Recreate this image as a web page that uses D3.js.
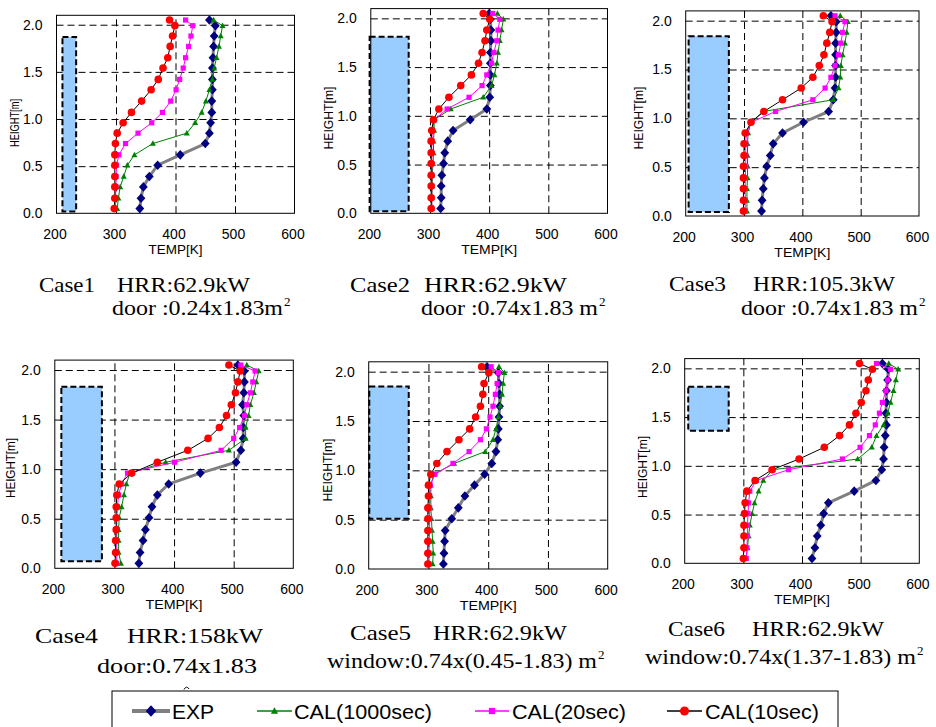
<!DOCTYPE html>
<html>
<head>
<meta charset="utf-8">
<script src="https://cdn.jsdelivr.net/npm/d3@7"></script>
<style>
  body { margin: 0; background: #fff; }
  .tick text { font-family: "Liberation Sans", Arial, sans-serif; font-size: 14px; fill: #000; }
</style>
</head>
<body>
<script>
// measurement heights [m], shared by every case
const heights = [0.05, 0.16, 0.28, 0.39, 0.51, 0.62, 0.74, 0.85, 0.96, 1.07, 1.19, 1.31, 1.42, 1.54, 1.65, 1.77, 1.88, 1.99, 2.05];

// temperatures [K], bottom to top
const case1Exp   = [340, 342, 346, 356, 370, 408, 450, 457, 459, 461, 461, 462, 462, 462, 463, 464, 465, 467, 457];
const case1C1000 = [302, 304, 307, 313, 319, 331, 362, 419, 433, 444, 451, 457, 462, 465, 469, 473, 476, 479, 464];
const case1C20   = [299, 299, 300, 300, 301, 305, 316, 337, 360, 378, 392, 401, 407, 413, 417, 422, 426, 429, 417];
const case1C10   = [297, 298, 298, 298, 298, 298, 299, 302, 312, 326, 343, 359, 371, 379, 387, 391, 395, 399, 390];

const case2Exp   = [318, 319, 319, 320, 323, 325, 330, 339, 368, 396, 401, 402, 402, 402, 402, 403, 403, 402, 400];
const case2C1000 = [303, 303, 304, 304, 305, 306, 306, 307, 307, 335, 390, 404, 409, 413, 415, 418, 421, 424, 414];
const case2C20   = [303, 303, 303, 303, 303, 303, 303, 304, 307, 329, 366, 388, 396, 404, 408, 413, 415, 418, 406];
const case2C10   = [302, 302, 302, 302, 302, 302, 302, 303, 306, 315, 332, 352, 370, 382, 388, 393, 396, 401, 390];

const case3Exp   = [330, 331, 333, 335, 339, 345, 350, 366, 402, 445, 453, 456, 457, 457, 457, 457, 458, 458, 449];
const case3C1000 = [305, 305, 305, 306, 306, 306, 306, 307, 312, 333, 453, 462, 465, 466, 469, 473, 476, 478, 465];
const case3C20   = [302, 302, 302, 302, 303, 303, 303, 304, 312, 354, 418, 439, 449, 456, 462, 466, 469, 473, 456];
const case3C10   = [299, 299, 299, 299, 299, 300, 300, 302, 312, 334, 366, 398, 418, 429, 437, 442, 447, 451, 436];

const case4Exp   = [341, 343, 348, 352, 358, 363, 372, 391, 444, 504, 512, 516, 516, 517, 515, 517, 518, 518, 507];
const case4C1000 = [311, 307, 307, 307, 308, 312, 316, 320, 326, 386, 492, 520, 520, 525, 528, 534, 538, 542, 522];
const case4C20   = [304, 304, 304, 304, 304, 305, 307, 312, 322, 401, 479, 500, 510, 518, 522, 528, 532, 536, 512];
const case4C10   = [301, 302, 302, 303, 303, 303, 304, 308, 329, 372, 423, 457, 476, 488, 496, 503, 507, 511, 492];

const case5Exp   = [325, 326, 327, 328, 339, 350, 361, 377, 394, 406, 413, 416, 417, 418, 419, 419, 418, 417, 398];
const case5C1000 = [307, 308, 307, 306, 305, 304, 304, 304, 309, 343, 395, 408, 413, 417, 420, 423, 425, 427, 418];
const case5C20   = [301, 301, 301, 302, 302, 302, 302, 303, 311, 341, 368, 387, 397, 403, 408, 412, 415, 417, 405];
const case5C10   = [299, 299, 299, 299, 299, 299, 300, 300, 304, 314, 331, 351, 369, 379, 387, 391, 393, 401, 389];

const case6Exp   = [417, 422, 426, 432, 437, 445, 489, 526, 536, 539, 540, 542, 544, 543, 544, 544, 546, 547, 537];
const case6C1000 = [305, 307, 309, 311, 315, 319, 326, 334, 350, 495, 519, 527, 539, 546, 551, 556, 560, 564, 548];
const case6C20   = [305, 306, 307, 307, 308, 309, 311, 322, 377, 469, 499, 515, 525, 532, 537, 543, 546, 551, 527];
const case6C10   = [300, 301, 301, 301, 302, 303, 306, 320, 349, 395, 438, 464, 481, 492, 501, 509, 513, 520, 498];

// opening (door / window) drawn as a box: [tempFrom, tempTo, heightFrom, heightTo]
const openings = [
    [210, 233, 0.02, 1.87],
    [198, 264, 0.02, 1.81],
    [205, 274, 0.04, 1.84],
    [211, 279, 0.07, 1.83],
    [201, 267, 0.51, 1.85],
    [206, 275, 1.36, 1.81]
];

const xTicks = [200, 300, 400, 500, 600];
const yTicks = [0, 0.5, 1.0, 1.5, 2.0];
const xGrid = [300, 400, 500];
const yGrid = [0.5, 1.0, 1.5, 2.0];

const caseNames = ["Case1", "Case2", "Case3", "Case4", "Case5", "Case6"];
const hrrLabels = ["HRR:62.9kW", "HRR:62.9kW", "HRR:105.3kW", "HRR:158kW", "HRR:62.9kW", "HRR:62.9kW"];
const openingLabels = ["door :0.24x1.83m", "door :0.74x1.83 m", "door :0.74x1.83 m", "door:0.74x1.83", "window:0.74x(0.45-1.83) m", "window:0.74x(1.37-1.83) m"];
const seriesNames = ["EXP", "CAL(1000sec)", "CAL(20sec)", "CAL(10sec)"];

const allCases = [
    [case1Exp, case1C1000, case1C20, case1C10],
    [case2Exp, case2C1000, case2C20, case2C10],
    [case3Exp, case3C1000, case3C20, case3C10],
    [case4Exp, case4C1000, case4C20, case4C10],
    [case5Exp, case5C1000, case5C20, case5C10],
    [case6Exp, case6C1000, case6C20, case6C10]
];

// panel geometry in page pixels
const panels = [
    { x0: 56.5, x1: 294.5, yb: 213.3, yt: 15.3, hx: 14, hy: 123, hl: 48, tw: 54 },
    { x0: 370.8, x1: 607.5, yb: 213.3, yt: 8.6, hx: 328, hy: 118, hl: 63, tw: 56 },
    { x0: 685.7, x1: 919, yb: 216, yt: 10.9, hx: 638, hy: 118, hl: 63, tw: 56 },
    { x0: 54.8, x1: 293.3, yb: 568.3, yt: 360.1, hx: 10, hy: 468, hl: 60, tw: 57 },
    { x0: 368.7, x1: 607.7, yb: 569, yt: 361.8, hx: 327, hy: 470, hl: 63, tw: 57 },
    { x0: 684.7, x1: 919.3, yb: 563.3, yt: 358.6, hx: 642, hy: 467, hl: 62, tw: 56 }
];

// caption positions: case name, HRR, opening line
const captionPos = [
    { cx: 39, cw: 56, hx: 117, hw: 133, y1: 292, ox: 112, ow: 171, y2: 315, sup: true },
    { cx: 350, cw: 60, hx: 424, hw: 143, y1: 292, ox: 421, ow: 177, y2: 315, sup: true },
    { cx: 669, cw: 57, hx: 753, hw: 142, y1: 291, ox: 741, ow: 177, y2: 315, sup: true },
    { cx: 35, cw: 63, hx: 127, hw: 136, y1: 643, ox: 97, ow: 160, y2: 673, sup: false },
    { cx: 350, cw: 61, hx: 433, hw: 134, y1: 640, ox: 327, ow: 270, y2: 668, sup: true },
    { cx: 668, cw: 57, hx: 752, hw: 132, y1: 636, ox: 645, ow: 271, y2: 664, sup: true }
];

const styles = [
    { line: "#808080", lw: 3, marker: "diamond", fill: "#000080" },
    { line: "#008000", lw: 1, marker: "triangle", fill: "#008000" },
    { line: "#ff00ff", lw: 1, marker: "square", fill: "#ff00ff" },
    { line: "#000000", lw: 1, marker: "circle", fill: "#ff0000" }
];

const markerPath = (type, k = 1) => {
    if (type === "diamond") return `M0,${-4.8 * k}L${4.4 * k},0L0,${4.8 * k}L${-4.4 * k},0Z`;
    if (type === "triangle") return `M0,${-3.2 * k}L${3 * k},${2.3 * k}L${-3 * k},${2.3 * k}Z`;
    if (type === "square") return `M${-2.6 * k},${-2.6 * k}h${5.2 * k}v${5.2 * k}h${-5.2 * k}Z`;
    return d3.symbol(d3.symbolCircle, Math.PI * Math.pow(3.8 * k, 2))();
};

const sans = '"Liberation Sans", Arial, sans-serif';
const serif = '"Liberation Serif", "Times New Roman", serif';

const svg = d3.select("body").append("svg")
    .attr("width", 936)
    .attr("height", 727);

panels.forEach((p, i) => {
    const x = d3.scaleLinear().domain([200, 600]).range([p.x0, p.x1]);
    const y = d3.scaleLinear().domain([0, 2.1]).range([p.yb, p.yt]);
    const g = svg.append("g");

    // grid
    const gx = g.append("g")
        .attr("transform", `translate(0,${p.yb})`)
        .call(d3.axisBottom(x).tickValues(xGrid).tickSize(p.yt - p.yb).tickFormat(""));
    const gy = g.append("g")
        .attr("transform", `translate(${p.x0},0)`)
        .call(d3.axisLeft(y).tickValues(yGrid).tickSize(p.x0 - p.x1).tickFormat(""));
    [gx, gy].forEach(a => {
        a.select(".domain").remove();
        a.selectAll("line").attr("stroke", "#000").attr("stroke-dasharray", "7,4");
    });

    // opening box
    const o = openings[i];
    g.append("rect")
        .attr("x", x(o[0]))
        .attr("y", y(o[3]))
        .attr("width", x(o[1]) - x(o[0]))
        .attr("height", y(o[2]) - y(o[3]))
        .attr("fill", "#99ccff")
        .attr("stroke", "#000")
        .attr("stroke-width", 2)
        .attr("stroke-dasharray", "6,3");

    // frame
    g.append("rect")
        .attr("x", p.x0).attr("y", p.yt)
        .attr("width", p.x1 - p.x0).attr("height", p.yb - p.yt)
        .attr("fill", "none").attr("stroke", "#000").attr("stroke-width", 1);

    // tick labels
    const ax = g.append("g")
        .attr("transform", `translate(-2,${p.yb})`)
        .call(d3.axisBottom(x).tickValues(xTicks).tickSize(0).tickPadding(16));
    ax.select(".domain").remove();
    const ay = g.append("g")
        .attr("transform", `translate(${p.x0},0)`)
        .call(d3.axisLeft(y).tickValues(yTicks).tickSize(0).tickPadding(14).tickFormat(d3.format(".1f")));
    ay.select(".domain").remove();

    // axis titles
    g.append("text")
        .attr("transform", `translate(${p.hx},${p.hy}) rotate(-90)`)
        .attr("dy", "0.35em")
        .attr("text-anchor", "middle")
        .attr("textLength", p.hl)
        .attr("lengthAdjust", "spacingAndGlyphs")
        .style("font-family", sans)
        .style("font-size", "13px")
        .text("HEIGHT[m]");
    g.append("text")
        .attr("x", (p.x0 + p.x1) / 2 - p.tw / 2)
        .attr("y", p.yb + 41)
        .attr("textLength", p.tw)
        .attr("lengthAdjust", "spacingAndGlyphs")
        .style("font-family", sans)
        .style("font-size", "13px")
        .text("TEMP[K]");

    // series
    allCases[i].forEach((temps, s) => {
        const st = styles[s];
        const pts = temps.map((t, j) => [x(t), y(heights[j])]);
        g.append("path")
            .attr("d", d3.line()(pts))
            .attr("fill", "none")
            .attr("stroke", st.line)
            .attr("stroke-width", st.lw);
        g.selectAll(null)
            .data(pts)
            .enter()
            .append("path")
            .attr("transform", d => `translate(${d[0]},${d[1]})`)
            .attr("d", markerPath(st.marker))
            .attr("fill", st.fill);
    });

    // caption
    const c = captionPos[i];
    const cap = (txt, x0, w, yy) => g.append("text")
        .attr("x", x0).attr("y", yy)
        .attr("textLength", w)
        .attr("lengthAdjust", "spacingAndGlyphs")
        .style("font-family", serif)
        .style("font-size", "22px")
        .text(txt);
    cap(caseNames[i], c.cx, c.cw, c.y1);
    cap(hrrLabels[i], c.hx, c.hw, c.y1);
    cap(openingLabels[i], c.ox, c.ow, c.y2);
    if (c.sup) {
        g.append("text")
            .attr("x", c.ox + c.ow + 1)
            .attr("y", c.y2 - 9)
            .style("font-family", serif)
            .style("font-size", "13px")
            .text("2");
    }
});

// tip of case 4's cut-off superscript, peeking above the legend box
svg.append("path")
    .attr("d", "M184,689.5 Q186.5,685 189,689")
    .attr("fill", "none")
    .attr("stroke", "#000")
    .attr("stroke-width", 1);

// legend
const legendPos = [
    { l1: 132, l2: 170, tx: 172, tw: 42 },
    { l1: 257, l2: 292, tx: 294, tw: 138 },
    { l1: 475, l2: 509, tx: 512, tw: 114 },
    { l1: 667, l2: 702, tx: 705, tw: 114 }
];
const legendG = svg.append("g");
legendG.append("rect")
    .attr("x", 112).attr("y", 691)
    .attr("width", 726).attr("height", 60)
    .attr("fill", "#fff").attr("stroke", "#000").attr("stroke-width", 1);
seriesNames.forEach((name, s) => {
    const lp = legendPos[s];
    const st = styles[s];
    const ly = 711;
    legendG.append("line")
        .attr("x1", lp.l1).attr("x2", lp.l2)
        .attr("y1", ly).attr("y2", ly)
        .attr("stroke", st.line)
        .attr("stroke-width", s === 0 ? 4 : 1.5);
    legendG.append("path")
        .attr("transform", `translate(${(lp.l1 + lp.l2) / 2},${ly})`)
        .attr("d", markerPath(st.marker, 1.2))
        .attr("fill", st.fill);
    legendG.append("text")
        .attr("x", lp.tx).attr("y", ly + 7.5)
        .attr("textLength", lp.tw)
        .attr("lengthAdjust", "spacingAndGlyphs")
        .style("font-family", sans)
        .style("font-size", "21px")
        .text(name);
});
</script>
</body>
</html>
